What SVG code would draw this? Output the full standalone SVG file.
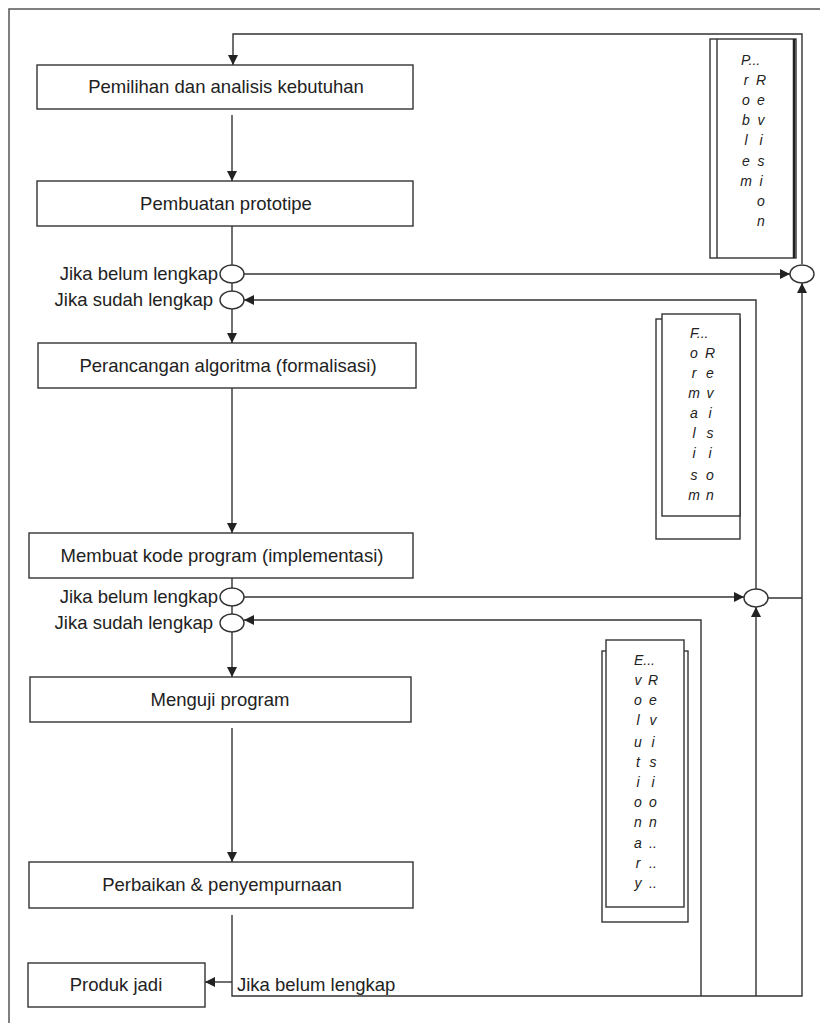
<svg xmlns="http://www.w3.org/2000/svg" width="820" height="1023" viewBox="0 0 820 1023">
<style>
.box{fill:#fff;stroke:#333;stroke-width:1.4}
.ln{fill:none;stroke:#333;stroke-width:1.4}
.t{font-family:"Liberation Sans",Arial,sans-serif;font-size:18.5px;fill:#222}
.c{text-anchor:middle}
.e{text-anchor:end}
.r{font-family:"Liberation Sans",Arial,sans-serif;font-size:14px;font-style:italic;fill:#222;text-anchor:middle}
.rs{font-family:"Liberation Sans",Arial,sans-serif;font-size:14px;font-style:italic;fill:#222}
.ell{fill:#fff;stroke:#333;stroke-width:1.4}
</style>
<defs>
<marker id="ah" viewBox="0 0 10 10" refX="10" refY="5" markerWidth="10" markerHeight="10" markerUnits="userSpaceOnUse" orient="auto">
<path d="M0,0 L10,5 L0,10 z" fill="#222"/>
</marker>
</defs>
<rect width="820" height="1023" fill="#fff"/>
<rect x="9" y="9" width="820" height="1030" fill="none" stroke="#555" stroke-width="1.5"/>

<g id="connectors">
<polyline class="ln" points="802,264 802,34 233,34 233,65" marker-end="url(#ah)"/>
<line class="ln" x1="232" y1="115" x2="232" y2="181" marker-end="url(#ah)"/>
<line class="ln" x1="232" y1="226" x2="232" y2="265"/>
<line class="ln" x1="232" y1="283" x2="232" y2="291"/>
<line class="ln" x1="244" y1="274" x2="790" y2="274" marker-end="url(#ah)"/>
<polyline class="ln" points="756,589 756,300 244,300" marker-end="url(#ah)"/>
<line class="ln" x1="232" y1="309" x2="232" y2="343" marker-end="url(#ah)"/>
<line class="ln" x1="232" y1="388" x2="232" y2="533" marker-end="url(#ah)"/>
<line class="ln" x1="232" y1="578" x2="232" y2="588"/>
<line class="ln" x1="232" y1="606" x2="232" y2="614"/>
<line class="ln" x1="244" y1="597" x2="744" y2="597" marker-end="url(#ah)"/>
<polyline class="ln" points="768,598 802,598"/>
<polyline class="ln" points="701,996 701,620 244,620" marker-end="url(#ah)"/>
<line class="ln" x1="232" y1="632" x2="232" y2="677" marker-end="url(#ah)"/>
<line class="ln" x1="232" y1="728" x2="232" y2="862" marker-end="url(#ah)"/>
<polyline class="ln" points="232,915 232,996 802,996 802,283" marker-end="url(#ah)"/>
<line class="ln" x1="756" y1="996" x2="756" y2="607" marker-end="url(#ah)"/>
<line class="ln" x1="232" y1="982" x2="205" y2="982" marker-end="url(#ah)"/>
</g>

<g id="n1"><rect class="box" x="37" y="65" width="376" height="44"/><text class="t c" x="226" y="93">Pemilihan dan analisis kebutuhan</text></g>
<g id="n2"><rect class="box" x="37" y="181" width="376" height="45"/><text class="t c" x="226" y="210">Pembuatan prototipe</text></g>
<g id="j1"><ellipse class="ell" cx="232" cy="274" rx="12" ry="9"/><text class="t e" x="218" y="280">Jika belum lengkap</text></g>
<g id="j2"><ellipse class="ell" cx="232" cy="300" rx="12" ry="9"/><text class="t e" x="213" y="306">Jika sudah lengkap</text></g>
<g id="n3"><rect class="box" x="38" y="343" width="378" height="45"/><text class="t c" x="228" y="372">Perancangan algoritma (formalisasi)</text></g>
<g id="n4"><rect class="box" x="29" y="533" width="384" height="45"/><text class="t c" x="222" y="562">Membuat kode program (implementasi)</text></g>
<g id="j3"><ellipse class="ell" cx="232" cy="597" rx="12" ry="9"/><text class="t e" x="218" y="603">Jika belum lengkap</text></g>
<g id="j4"><ellipse class="ell" cx="232" cy="623" rx="12" ry="9"/><text class="t e" x="213" y="629">Jika sudah lengkap</text></g>
<g id="n5"><rect class="box" x="30" y="677" width="381" height="45"/><text class="t c" x="220" y="706">Menguji program</text></g>
<g id="n6"><rect class="box" x="29" y="862" width="384" height="46"/><text class="t c" x="222" y="891">Perbaikan &amp; penyempurnaan</text></g>
<g id="n7"><rect class="box" x="28" y="963" width="177" height="44"/><text class="t c" x="116" y="991">Produk jadi</text></g>
<g id="lbl"><text class="t" x="237" y="991">Jika belum lengkap</text></g>

<g id="jr1"><ellipse class="ell" cx="802" cy="274" rx="12" ry="9"/></g>
<g id="jr2"><ellipse class="ell" cx="756" cy="598" rx="12" ry="9"/></g>

<g id="problem">
<rect class="box" x="710" y="39" width="86" height="219"/>
<line class="ln" x1="717" y1="39" x2="717" y2="258"/>
<line x1="794" y1="39" x2="794" y2="258" stroke="#222" stroke-width="2.5"/>
<text class="rs" x="741" y="65">P...</text>
<text class="r" x="746" y="85">r</text><text class="r" x="761" y="85">R</text>
<text class="r" x="746" y="105">o</text><text class="r" x="761" y="105">e</text>
<text class="r" x="746" y="125">b</text><text class="r" x="761" y="125">v</text>
<text class="r" x="746" y="145">l</text><text class="r" x="761" y="145">i</text>
<text class="r" x="746" y="166">e</text><text class="r" x="761" y="166">s</text>
<text class="r" x="746" y="186">m</text><text class="r" x="761" y="186">i</text>
<text class="r" x="761" y="206">o</text>
<text class="r" x="761" y="226">n</text>
</g>

<g id="formalism">
<rect class="box" x="656" y="319" width="84" height="220"/>
<rect class="box" x="662" y="314" width="78" height="202"/>
<text class="rs" x="690" y="338">F...</text>
<text class="r" x="694" y="358">o</text><text class="r" x="710" y="358">R</text>
<text class="r" x="694" y="378">r</text><text class="r" x="710" y="378">e</text>
<text class="r" x="694" y="398">m</text><text class="r" x="710" y="398">v</text>
<text class="r" x="694" y="418">a</text><text class="r" x="710" y="418">i</text>
<text class="r" x="694" y="438">l</text><text class="r" x="710" y="438">s</text>
<text class="r" x="694" y="458">i</text><text class="r" x="710" y="458">i</text>
<text class="r" x="694" y="480">s</text><text class="r" x="710" y="480">o</text>
<text class="r" x="694" y="500">m</text><text class="r" x="710" y="500">n</text>
</g>

<g id="evolutionary">
<rect class="box" x="602" y="651" width="86" height="271"/>
<rect class="box" x="606" y="640" width="78" height="267"/>
<text class="rs" x="634" y="665">E...</text>
<text class="r" x="638" y="685">v</text><text class="r" x="653" y="685">R</text>
<text class="r" x="638" y="705">o</text><text class="r" x="653" y="705">e</text>
<text class="r" x="638" y="725">l</text><text class="r" x="653" y="725">v</text>
<text class="r" x="638" y="747">u</text><text class="r" x="653" y="747">i</text>
<text class="r" x="638" y="767">t</text><text class="r" x="653" y="767">s</text>
<text class="r" x="638" y="787">i</text><text class="r" x="653" y="787">i</text>
<text class="r" x="638" y="807">o</text><text class="r" x="653" y="807">o</text>
<text class="r" x="638" y="827">n</text><text class="r" x="653" y="827">n</text>
<text class="r" x="638" y="848">a</text><text class="r" x="653" y="848">..</text>
<text class="r" x="638" y="868">r</text><text class="r" x="653" y="868">..</text>
<text class="r" x="638" y="888">y</text><text class="r" x="653" y="888">..</text>
</g>
</svg>
